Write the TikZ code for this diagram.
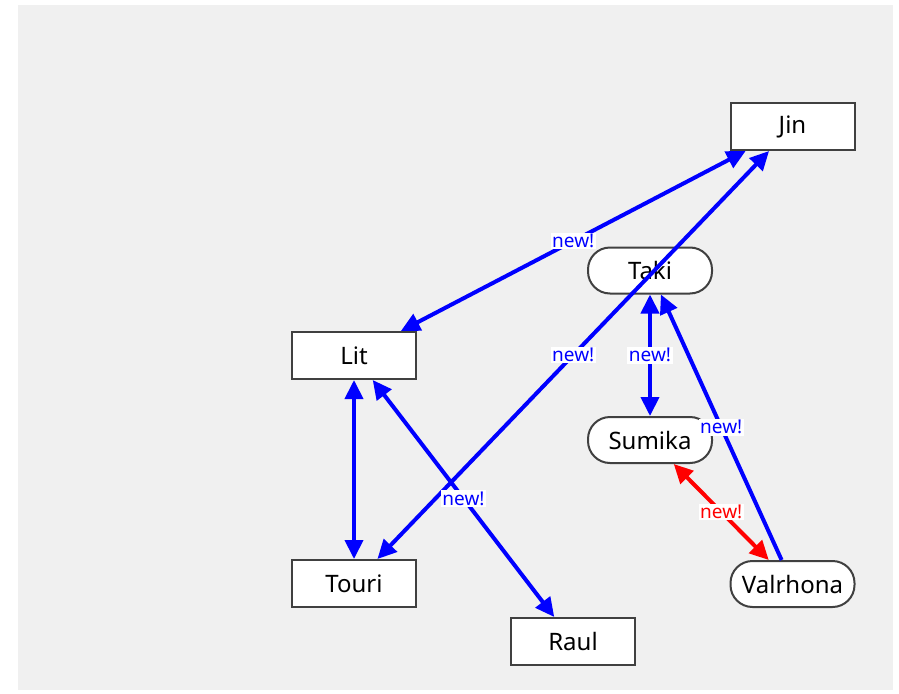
\documentclass[tikz,border=0pt]{standalone}
\usepackage{fontspec}
\setmainfont{Noto Sans}
\usetikzlibrary{arrows.meta}

\definecolor{bg_gray}{HTML}{F0F0F0}
\definecolor{border_gray}{HTML}{404040}

\begin{document}
\begin{tikzpicture}[x=1pt, y=-1pt,
        box_style/.style={rectangle,draw=border_gray,line width=2pt,fill=white,minimum width=124pt,minimum height=47pt,inner sep=0pt,font=\fontsize{24}{28}\selectfont},
        oval_style/.style={box_style,rounded corners=22pt,minimum height=46pt},
        edge_style/.style={color=blue, line width=4pt, {Triangle[length=19pt,width=18pt]}-{Triangle[length=19pt,width=18pt]}},
        one_way_style/.style={color=blue, line width=4pt, -{Triangle[length=19pt,width=18pt]}},
        red_edge_style/.style={color=red, line width=4pt, {Triangle[length=19pt,width=18pt]}-{Triangle[length=19pt,width=18pt]}},
        label_style/.style={fill=white,text=blue,inner sep=1.5pt,font=\fontsize{19}{21}\selectfont}]

        \useasboundingbox (0,0) rectangle (899,693);
        \fill [bg_gray] (18,5) rectangle (893,690);

        \node [box_style](jin) at (792.5,126.5) {Jin};

        \node [oval_style](taki) at (650,270.5) {Taki};

        \node [box_style](lit) at (354,355.5) {Lit};

        \node [oval_style](sumika) at (650,440) {Sumika};

        \node [box_style](touri) at (354,583.5) {Touri};

        \node [box_style](raul) at (573,641.5) {Raul};

        \node [oval_style](valrhona) at (792.5,584) {Valrhona};

        \draw [edge_style] (jin) edge node[label_style]{new!} (lit);

        \draw [edge_style] (touri) edge node[label_style]{new!} (jin);

        \draw [edge_style] (lit) edge (touri);

        \draw [edge_style] (lit) edge node[label_style]{new!} (raul);

        \draw [edge_style] (taki) edge node[label_style]{new!} (sumika);

        \draw [one_way_style] (valrhona) edge node[label_style]{new!} (taki);

        \draw [red_edge_style] (sumika) edge node[label_style,text=red]{new!} (valrhona);

        \end{tikzpicture}
\end{document}
